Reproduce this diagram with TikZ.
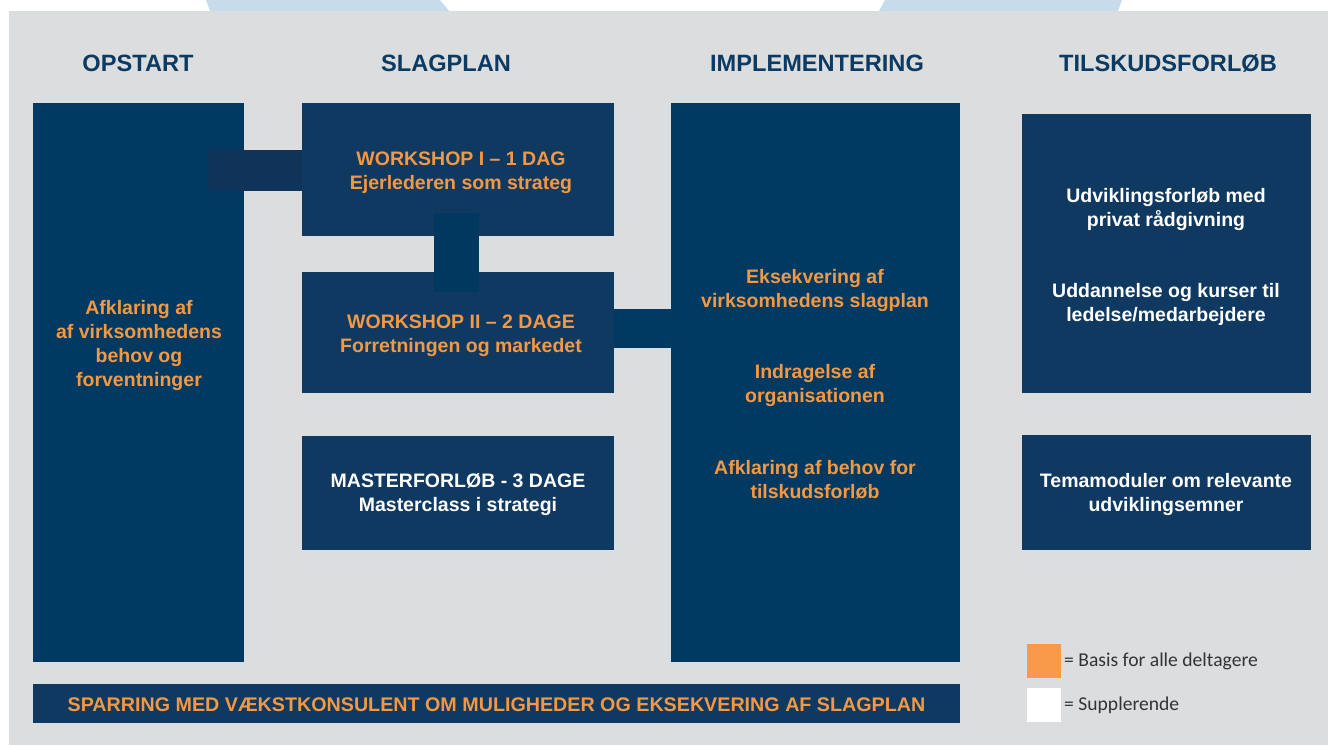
\documentclass[tikz,border=0pt]{standalone}
\usepackage{fontspec}
\setmainfont{Liberation Sans}
\newfontfamily\legendfont{Carlito}
\usepackage{xcolor}
\usetikzlibrary{positioning, calc}

\definecolor{panelgray}{HTML}{DCDDDF}
\definecolor{tabblue}{HTML}{C6DCEA}
\definecolor{navy}{HTML}{003A63}
\definecolor{navybox}{HTML}{0F3961}
\definecolor{navylink}{HTML}{10335A}
\definecolor{navylinkb}{HTML}{00385F}
\definecolor{titleblue}{HTML}{0B3A62}
\definecolor{basisorange}{HTML}{F59842}
\definecolor{legendorange}{HTML}{F89A4A}

\tikzset{
  phase/.style={font=\bfseries\fontsize{23.6}{28}\selectfont, text=titleblue, inner sep=0},
  bigbox/.style={fill=navy, inner sep=0},
  box/.style={fill=navybox, inner sep=0},
  basis/.style={font=\bfseries\fontsize{19.5}{24}\selectfont, text=basisorange, align=center, inner sep=0},
  extra/.style={font=\bfseries\fontsize{19.5}{24}\selectfont, text=white, align=center, inner sep=0},
  bar/.style={draw=navylink},
  legend/.style={font=\legendfont\fontsize{19.6}{23}\selectfont, text=black!80, anchor=west, inner sep=0}
}

\begin{document}
\begin{tikzpicture}[x=1pt, y=-1pt]
  \useasboundingbox (0,0) rectangle (1328,745);
  \fill[white] (0,0) rectangle (1328,745);

  % tabs above the panel
  \fill[tabblue] (206,0) -- (440,0) -- (449,11) -- (210,11) -- cycle;
  \fill[tabblue] (885,0) -- (1122,0) -- (1118,11) -- (879,11) -- cycle;
  \fill[panelgray] (9,11) rectangle (1328,745);

  % phase titles
  \node[phase] (t-opstart) at (138,63) {OPSTART};
  \node[phase] (t-slagplan) at (446,63) {SLAGPLAN};
  \node[phase] (t-impl) at (817,63) {IMPLEMENTERING};
  \node[phase] (t-tilskud) at (1168,63) {TILSKUDSFORLØB};

  % boxes
  \node[bigbox, minimum width=211pt, minimum height=559pt] (opstart) at (138.5,382.5) {};
  \node[box, minimum width=312pt, minimum height=133pt] (ws1) at (458,169.5) {};
  \node[box, minimum width=312pt, minimum height=121pt] (ws2) at (458,332.5) {};
  \node[box, minimum width=312pt, minimum height=114pt] (master) at (458,493) {};
  \node[bigbox, minimum width=289pt, minimum height=559pt] (impl) at (815.5,382.5) {};
  \node[box, minimum width=289pt, minimum height=279pt] (tilskud1) at (1166.5,253.5) {};
  \node[box, minimum width=289pt, minimum height=115pt] (tilskud2) at (1166.5,492.5) {};
  \node[box, minimum width=927pt, minimum height=39pt] (sparring) at (496.5,703.5) {};

  % links between the boxes
  \draw[bar, line width=41pt] ($(opstart.east |- ws1.west)+(-36,1)$) -- ($(ws1.west)+(0,1)$);
  \draw[bar, draw=navylinkb, line width=45pt] ($(ws1.south)+(-1.5,-23)$) -- ($(ws2.north)+(-1.5,20)$);
  \draw[bar, draw=navy, line width=39pt] ($(ws2.east)+(0,-4)$) -- ($(impl.west |- ws2.east)+(0,-4)$);

  % texts
  \node[basis] (opstart-txt) at (139,345) {Afklaring af\\af virksomhedens\\behov og\\forventninger};
  \node[basis] (ws1-txt) at (461,172.5) {WORKSHOP I -- 1 DAG\\Ejerlederen som strateg};
  \node[basis] (ws2-txt) at (461,335.5) {WORKSHOP II -- 2 DAGE\\Forretningen og markedet};
  \node[extra] (master-txt) at (458,495) {MASTERFORLØB - 3 DAGE\\Masterclass i strategi};
  \node[basis] (impl-a) at (815,290) {Eksekvering af\\virksomhedens slagplan};
  \node[basis] (impl-b) at (815,385) {Indragelse af\\organisationen};
  \node[basis] (impl-c) at (815,480) {Afklaring af behov for\\tilskudsforløb};
  \node[extra] (tilskud-a) at (1166,209) {Udviklingsforløb med\\privat rådgivning};
  \node[extra] (tilskud-b) at (1166,304) {Uddannelse og kurser til\\ledelse/medarbejdere};
  \node[extra] (tilskud-c) at (1166,494.5) {Temamoduler om relevante\\udviklingsemner};
  \node[basis, font=\bfseries\fontsize{19.7}{23}\selectfont] (sparring-txt) at ($(sparring)+(0,1)$) {SPARRING MED VÆKSTKONSULENT OM MULIGHEDER OG EKSEKVERING AF SLAGPLAN};

  % legend
  \fill[legendorange] (1027,644) rectangle (1061,678);
  \fill[white] (1027,688) rectangle (1061,722);
  \node[legend] (leg-basis) at (1064,661) {= Basis for alle deltagere};
  \node[legend] (leg-extra) at (1064,705) {= Supplerende};
\end{tikzpicture}
\end{document}
